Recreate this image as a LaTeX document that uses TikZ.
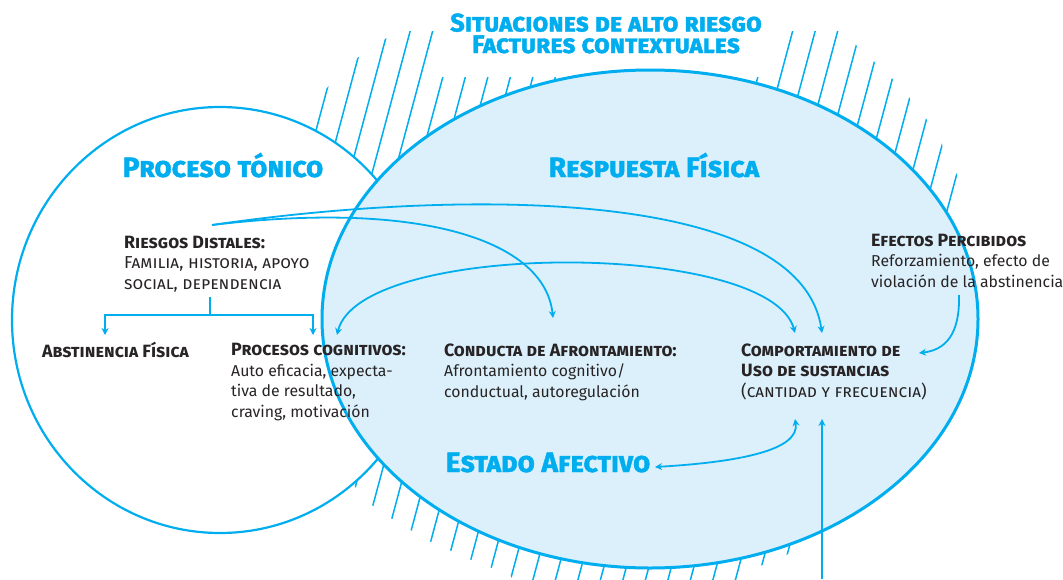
\documentclass[tikz,border=0pt]{standalone}
\usepackage{fontspec}
\setmainfont{Fira Sans}
\newfontfamily\gruesa{Fira Sans Bold}[FakeBold=1.6]
\usetikzlibrary{arrows.meta}
\definecolor{cian}{RGB}{0,174,239}
\definecolor{celeste}{RGB}{219,240,251}
\definecolor{tinta}{RGB}{40,36,37}
\newcommand{\encab}[1]{{\fontsize{17.8}{20.5}\selectfont\bfseries\scshape #1}}
\newcommand{\versal}[1]{{\fontsize{17.3}{20.5}\selectfont\scshape #1}}
\tikzset{
  flecha/.style={cian, line width=1.8pt, -{Stealth[length=7pt,width=7pt]}},
  dobleflecha/.style={flecha, {Stealth[length=7pt,width=7pt]}-{Stealth[length=7pt,width=7pt]}},
  rayas/.style={cian, line width=1.5pt},
  titulo/.style={cian, inner sep=0, align=center, anchor=base, font=\fontsize{28}{21}\selectfont\gruesa\scshape},
  bloque/.style={tinta, inner sep=0, align=left, anchor=base west, font=\fontsize{15.8}{20.5}\selectfont},
}
\begin{document}
\begin{tikzpicture}[x=1pt, y=-1pt]
  \useasboundingbox (0,0) rectangle (1063,579);
  % hatching round the big ellipse
  \begin{scope}
    \clip (300,150) -- (322,93) -- (352,62) -- (382,40) -- (405,31) -- (840,31)
      -- (865,53) -- (901,87) -- (935,130) -- (963,187) -- (962,215) -- (945,230)
      -- (820,520) -- (800,549) -- (760,566) -- (720,590) -- (520,590) -- (510,575)
      -- (469,559) -- (429,541) -- (389,517) -- (369,503) -- (345,475) -- cycle;
    \foreach \k in {0,...,42}
      \draw[rayas] (100+\k*22.5,600) -- ++(161,-600);
  \end{scope}
  \fill[white] (435,0) rectangle (775,77);
  % the two processes
  \draw[cian, line width=2.2pt, fill=white] (220,320) ellipse (208 and 213);
  \draw[cian, line width=3pt, fill=celeste] (650,319) ellipse (328 and 249);

  \node[titulo, font=\fontsize{25.5}{21.5}\selectfont\gruesa\scshape] (alto) at (606,53)
    {Situaciones de alto riesgo\\Factures contextuales};
  \node[titulo] (tonico) at (223,177) {Proceso tónico};
  \node[titulo] (fasica) at (654,177) {Respuesta Física};
  \node[titulo] (afectivo) at (548,472) {Estado Afectivo};

  \node[bloque] (riesgos) at (124,289) {\encab{Riesgos Distales:}\\
    \versal{Familia, historia, apoyo}\\ \versal{social, dependencia}};
  \node[bloque] (abstinencia) at (42,357) {\encab{Abstinencia Física}};
  \node[bloque] (procesos) at (231,417) {\encab{Procesos cognitivos:}\\
    Auto eficacia, expecta-\\ tiva de resultado,\\ craving, motivación};
  \node[bloque] (conducta) at (444,397) {\encab{Conducta de Afrontamiento:}\\
    Afrontamiento cognitivo/\\ conductual, autoregulación};
  \node[bloque] (uso) at (741,397) {\encab{Comportamiento de}\\
    \encab{Uso de sustancias}\\ \versal{(cantidad y frecuencia)}};
  \node[bloque] (efectos) at (871,287) {\encab{Efectos Percibidos}\\
    Reforzamiento, efecto de\\ violación de la abstinencia};

  % connector ends
  \coordinate (rd-out) at (212,225);
  \coordinate (rd-down) at (210,297);
  \coordinate (ab-in) at (105,335);
  \coordinate (pc-in) at (313,335);
  \coordinate (pc-curve) at (337,335);
  \coordinate (ca-in) at (553,318);
  \coordinate (uso-a) at (795,333);
  \coordinate (uso-b) at (822,333);
  \coordinate (uso-c) at (795,419);
  \coordinate (uso-d) at (822,419);
  \coordinate (ef-out) at (959,295);
  \coordinate (ef-in) at (919,353);
  \coordinate (ea-in) at (655,467);
  \coordinate (base) at (822,579);

  \draw[cian, line width=1.8pt] (rd-down) -- (210,315);
  \draw[flecha] (210,315) -| (ab-in);
  \draw[flecha] (210,315) -| (pc-in);
  \draw[flecha] (rd-out) .. controls (450,190) and (800,185) .. (uso-b);
  \draw[flecha] (rd-out) .. controls (420,200) and (545,240) .. (ca-in);
  \draw[dobleflecha] (pc-curve) .. controls (360,240) and (770,240) .. (uso-a);
  \draw[flecha] (ef-out) .. controls (960,335) and (945,350) .. (ef-in);
  \draw[dobleflecha] (ea-in) .. controls (740,462) and (800,450) .. (uso-c);
  \draw[flecha] (base) -- (uso-d);
\end{tikzpicture}
\end{document}
